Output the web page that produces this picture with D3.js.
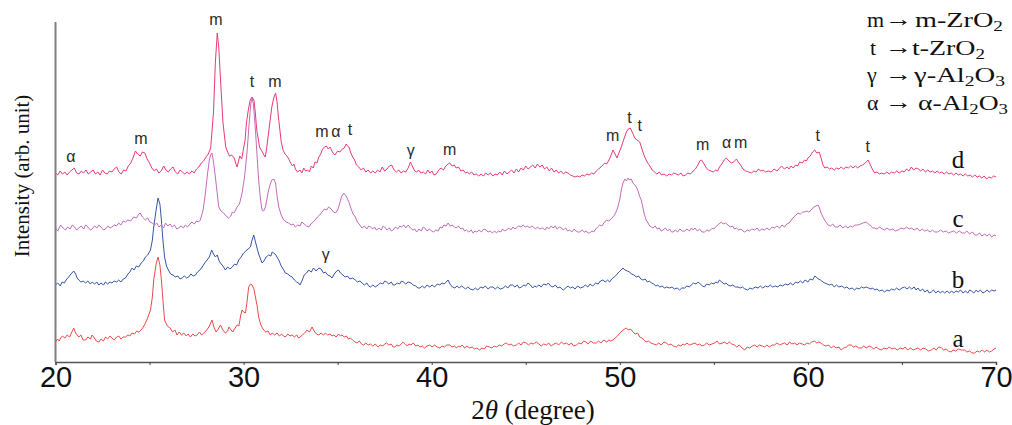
<!DOCTYPE html>
<html>
<head>
<meta charset="utf-8">
<script src="https://cdnjs.cloudflare.com/ajax/libs/d3/7.8.5/d3.min.js"></script>
<style>
  body { margin: 0; background: #fff; }
  .serif { font-family: "Liberation Serif", "Times New Roman", serif; }
  .sans { font-family: "Liberation Sans", Arial, sans-serif; }
</style>
</head>
<body>
<div id="xrd"></div>
<script>
// XRD patterns, [2theta, intensity] (intensity incl. vertical offset)
var curveA = [[20.0,20],[20.1,23],[20.2,21],[20.27,24],[20.37,26],[20.5,24],[20.62,27],[20.75,25],[20.87,30],[20.97,34],[21.07,29],[21.15,27],[21.24,25],[21.35,27],[21.47,22],[21.6,22],[21.72,25],[21.85,23],[21.95,27],[22.07,24],[22.17,21],[22.3,20],[22.42,23],[22.55,21],[22.66,25],[22.77,23],[22.9,26],[23.0,24],[23.12,22],[23.25,25],[23.36,26],[23.48,23],[23.6,25],[23.72,25],[23.85,27],[23.95,26],[24.07,29],[24.2,28],[24.32,31],[24.43,30],[24.55,32],[24.67,35],[24.78,39],[24.9,44],[25.05,52],[25.15,65],[25.22,82],[25.35,98],[25.45,105],[25.55,97],[25.63,82],[25.72,60],[25.8,42],[25.92,37],[26.0,35],[26.1,34],[26.22,30],[26.35,32],[26.46,27],[26.58,30],[26.7,27],[26.82,29],[26.95,26],[27.05,28],[27.17,25],[27.3,28],[27.42,26],[27.53,27],[27.65,30],[27.77,27],[27.88,29],[28.0,31],[28.08,33],[28.15,35],[28.25,39],[28.32,42],[28.42,35],[28.54,30],[28.65,33],[28.77,37],[28.9,32],[29.03,29],[29.15,31],[29.22,35],[29.3,33],[29.42,30],[29.55,34],[29.65,37],[29.75,36],[29.85,47],[29.92,52],[30.0,50],[30.1,49],[30.18,60],[30.27,75],[30.37,78],[30.45,77],[30.55,73],[30.63,65],[30.72,56],[30.8,45],[30.9,38],[31.0,34],[31.07,32],[31.18,30],[31.3,31],[31.42,27],[31.52,29],[31.65,27],[31.78,29],[31.9,26],[32.02,28],[32.12,26],[32.22,25],[32.35,28],[32.47,26],[32.58,27],[32.7,25],[32.82,27],[32.92,24],[33.0,25],[33.12,27],[33.25,29],[33.37,32],[33.5,30],[33.64,35],[33.75,31],[33.87,28],[34.0,27],[34.12,29],[34.25,27],[34.35,29],[34.47,27],[34.6,28],[34.7,26],[34.8,27],[34.92,25],[35.05,28],[35.15,26],[35.23,27],[35.35,25],[35.47,26],[35.57,23],[35.67,24],[35.8,22],[35.92,20],[36.03,19],[36.15,21],[36.27,18],[36.38,17],[36.5,19],[36.62,17],[36.74,18],[36.87,16],[37.0,18],
  [37.15,15],[37.27,17],[37.4,16],[37.5,18],[37.6,19],[37.72,17],[37.85,18],[37.95,15],[38.04,15],[38.15,17],[38.27,16],[38.38,18],[38.48,20],[38.6,18],[38.7,16],[38.8,18],[38.9,17],[39.02,19],[39.15,16],[39.27,17],[39.37,15],[39.5,16],[39.62,14],[39.75,16],[39.9,17],[40.02,15],[40.15,17],[40.3,15],[40.43,14],[40.55,16],[40.67,15],[40.8,17],[40.96,17],[41.08,15],[41.2,16],[41.32,14],[41.42,16],[41.5,15],[41.62,17],[41.75,14],[41.87,16],[42.02,14],[42.15,15],[42.27,13],[42.4,14],[42.55,12],[42.67,14],[42.8,13],[42.92,16],[43.08,15],[43.2,14],[43.32,16],[43.45,15],[43.6,17],[43.72,16],[43.85,18],[43.97,19],[44.1,17],[44.22,18],[44.35,16],[44.5,17],[44.62,19],[44.75,17],[44.87,20],[45.03,19],[45.15,17],[45.27,19],[45.4,18],[45.57,20],[45.7,18],[45.82,16],[45.95,18],[46.1,17],[46.22,19],[46.35,16],[46.5,18],[46.63,19],[46.75,17],[46.9,20],[47.02,18],[47.16,19],[47.3,17],[47.42,19],[47.55,16],[47.7,17],[47.82,19],[47.95,18],[48.08,21],[48.2,20],[48.32,18],[48.45,21],[48.6,19],[48.75,19],[48.87,21],[49.0,19],[49.15,22],[49.3,20],[49.42,22],[49.52,21],[49.64,22],[49.75,24],[49.88,26],[50.0,29],[50.12,31],[50.25,33],[50.35,34],[50.45,32],[50.58,33],[50.7,30],[50.82,28],[50.95,29],[51.06,25],[51.17,24],[51.3,22],[51.4,20],[51.52,21],[51.65,19],[51.8,18],[51.94,17],[52.07,19],[52.2,17],[52.35,20],[52.47,19],[52.6,17],[52.72,18],[52.85,16],[53.0,15],[53.12,17],[53.25,16],[53.35,18],[53.45,17],
  [53.57,19],[53.7,17],[53.85,18],[54.0,19],[54.12,17],[54.25,18],[54.37,16],[54.5,17],[54.62,19],[54.75,17],[54.9,18],[55.04,19],[55.17,21],[55.3,18],[55.45,19],[55.57,20],[55.7,18],[55.82,20],[55.95,18],[56.1,17],[56.22,15],[56.35,17],[56.5,14],[56.64,12],[56.77,15],[56.9,14],[57.05,16],[57.17,17],[57.3,15],[57.42,17],[57.57,16],[57.7,15],[57.82,17],[57.95,15],[58.1,17],[58.23,17],[58.35,19],[58.5,17],[58.62,18],[58.76,19],[58.9,17],[59.02,20],[59.15,18],[59.3,19],[59.42,17],[59.55,19],[59.7,18],[59.83,17],[59.95,19],[60.08,18],[60.2,20],[60.36,21],[60.47,19],[60.58,20],[60.7,19],[60.82,17],[60.95,16],[61.1,17],[61.24,14],[61.37,16],[61.5,14],[61.65,15],[61.77,12],[61.9,14],[62.05,15],[62.17,17],[62.3,17],[62.42,15],[62.55,16],[62.7,14],[62.84,14],[62.97,16],[63.1,14],[63.25,16],[63.37,15],[63.5,13],[63.62,15],[63.77,13],[63.9,12],[64.05,14],[64.2,13],[64.32,15],[64.47,13],[64.6,14],[64.75,12],[64.9,14],[65.05,13],[65.17,15],[65.3,12],[65.45,14],[65.6,12],[65.72,13],[65.85,14],[66.0,12],[66.12,14],[66.27,13],[66.4,11],[66.56,12],[66.7,14],[66.82,12],[66.95,15],[67.1,14],[67.22,12],[67.35,13],[67.47,11],[67.6,10],[67.72,12],[67.85,11],[68.0,13],[68.17,12],[68.33,12],[68.45,10],[68.6,11],[68.72,9],[68.86,9],[69.0,11],[69.12,10],[69.27,12],[69.4,10],[69.52,12],[69.65,10],[69.77,11],[69.9,13],[70.0,14]];

var curveB = [[20.0,77],[20.12,79],[20.25,76],[20.35,80],[20.47,79],[20.6,83],[20.7,85],[20.82,88],[20.97,91],[21.07,88],[21.15,84],[21.24,82],[21.35,80],[21.47,81],[21.6,79],[21.72,81],[21.85,78],[21.95,80],[22.07,78],[22.2,80],[22.3,77],[22.42,79],[22.55,77],[22.66,80],[22.77,78],[22.9,80],[23.0,79],[23.12,81],[23.25,80],[23.36,82],[23.48,80],[23.6,83],[23.72,84],[23.85,88],[23.95,90],[24.07,94],[24.18,92],[24.3,96],[24.43,95],[24.55,99],[24.67,101],[24.78,105],[24.9,107],[25.05,112],[25.15,122],[25.22,135],[25.35,152],[25.45,164],[25.55,158],[25.63,142],[25.72,120],[25.8,105],[25.9,96],[26.0,92],[26.12,88],[26.25,87],[26.37,85],[26.5,86],[26.62,83],[26.73,84],[26.85,86],[26.97,84],[27.08,85],[27.2,88],[27.32,86],[27.44,87],[27.55,90],[27.68,92],[27.8,95],[27.93,99],[28.06,102],[28.18,105],[28.3,112],[28.4,108],[28.5,105],[28.6,107],[28.7,101],[28.77,99],[28.9,96],[29.03,92],[29.15,95],[29.27,93],[29.4,95],[29.52,98],[29.63,97],[29.74,102],[29.87,105],[30.0,109],[30.12,111],[30.24,113],[30.36,115],[30.45,122],[30.54,127],[30.62,121],[30.7,115],[30.8,108],[30.9,103],[30.98,99],[31.08,101],[31.2,105],[31.33,107],[31.45,106],[31.52,110],[31.6,109],[31.72,107],[31.8,104],[31.87,102],[32.0,96],[32.1,93],[32.22,89],[32.35,88],[32.47,86],[32.58,85],[32.7,82],[32.82,80],[32.92,79],[33.0,77],[33.1,81],[33.22,87],[33.35,89],[33.46,92],[33.6,90],[33.72,94],[33.85,91],[34.0,94],[34.12,93],[34.25,89],[34.35,90],[34.47,87],[34.6,86],[34.7,84],[34.82,88],[34.95,91],[35.05,92],[35.15,89],[35.28,87],[35.4,85],[35.52,86],[35.65,83],[35.8,84],[35.94,82],[36.05,80],[36.18,81],[36.3,79],[36.42,77],[36.55,79],[36.65,76],[36.74,75],[36.87,77],[37.0,75],
  [37.15,77],[37.27,79],[37.4,78],[37.5,81],[37.6,80],[37.72,78],[37.85,80],[37.95,77],[38.04,77],[38.17,79],[38.3,78],[38.4,81],[38.5,80],[38.62,78],[38.75,80],[38.9,79],[39.02,77],[39.15,76],[39.27,74],[39.37,74],[39.5,76],[39.62,74],[39.75,77],[39.9,75],[40.02,77],[40.15,75],[40.3,78],[40.43,77],[40.55,79],[40.67,78],[40.77,80],[40.87,82],[40.97,78],[41.1,75],[41.23,74],[41.35,76],[41.47,74],[41.57,76],[41.67,75],[41.8,73],[41.92,75],[42.05,73],[42.2,72],[42.32,74],[42.45,72],[42.6,75],[42.73,74],[42.85,76],[43.0,73],[43.12,75],[43.26,75],[43.38,73],[43.5,75],[43.65,73],[43.8,74],[43.92,76],[44.05,74],[44.17,77],[44.3,77],[44.42,75],[44.55,77],[44.65,74],[44.77,75],[44.9,77],[45.0,76],[45.12,79],[45.25,77],[45.37,74],[45.47,76],[45.57,75],[45.7,77],[45.82,75],[45.95,78],[46.1,77],[46.2,79],[46.32,76],[46.45,75],[46.57,77],[46.7,74],[46.82,75],[46.92,73],[47.0,72],[47.12,74],[47.25,76],[47.37,74],[47.5,75],[47.62,73],[47.75,76],[47.9,74],[48.05,75],[48.17,77],[48.3,75],[48.42,78],[48.55,76],[48.6,77],[48.72,79],[48.85,78],[48.97,81],[49.1,82],[49.22,80],[49.35,82],[49.46,80],[49.57,83],[49.7,85],[49.82,87],[49.95,90],[50.07,92],[50.17,94],[50.27,92],[50.4,91],[50.52,90],[50.62,88],[50.75,87],[50.88,85],[51.0,86],[51.12,83],[51.23,82],[51.35,83],[51.47,80],[51.58,81],[51.68,79],[51.8,78],[51.92,76],[52.02,77],[52.12,75],[52.25,76],[52.38,74],[52.5,75],[52.65,74],[52.78,75],[52.9,73],[53.05,74],[53.18,72],[53.3,74],[53.45,74],
  [53.57,76],[53.7,75],[53.8,77],[53.92,79],[54.05,78],[54.16,80],[54.28,78],[54.4,76],[54.5,75],[54.62,78],[54.75,77],[54.87,79],[55.0,78],[55.1,80],[55.2,79],[55.3,82],[55.42,80],[55.55,78],[55.65,79],[55.75,77],[55.87,76],[56.0,77],[56.15,75],[56.28,75],[56.4,74],[56.52,75],[56.65,73],[56.8,72],[56.92,74],[57.05,73],[57.2,75],[57.35,74],[57.47,76],[57.6,74],[57.75,76],[57.88,75],[58.0,77],[58.12,75],[58.27,76],[58.4,75],[58.52,77],[58.65,76],[58.8,78],[58.94,77],[59.07,79],[59.2,77],[59.35,80],[59.47,79],[59.6,81],[59.72,79],[59.85,82],[60.0,80],[60.12,83],[60.25,82],[60.37,86],[60.45,85],[60.55,83],[60.67,82],[60.8,80],[60.9,79],[61.02,78],[61.15,77],[61.27,78],[61.4,75],[61.52,77],[61.65,75],[61.8,76],[61.95,74],[62.07,75],[62.2,73],[62.35,74],[62.48,72],[62.6,74],[62.72,73],[62.85,75],[62.97,74],[63.1,75],[63.22,74],[63.35,73],[63.45,74],[63.55,72],[63.67,73],[63.8,71],[63.95,72],[64.08,70],[64.2,72],[64.32,71],[64.45,73],[64.6,72],[64.72,74],[64.85,72],[65.0,74],[65.14,75],[65.27,73],[65.4,75],[65.52,73],[65.65,75],[65.75,72],[65.85,74],[65.97,71],[66.1,73],[66.22,70],[66.35,72],[66.45,69],[66.56,70],[66.67,72],[66.8,69],[66.92,71],[67.05,69],[67.15,71],[67.27,69],[67.4,71],[67.52,69],[67.65,71],[67.75,69],[67.87,71],[68.0,70],[68.12,72],[68.25,69],[68.37,71],[68.5,69],[68.6,72],[68.7,71],[68.82,69],[68.95,72],[69.05,70],[69.17,72],[69.3,69],[69.4,70],[69.52,72],[69.65,70],[69.77,72],[69.9,71],[70.0,72]];

var curveC = [[20.0,134],[20.12,131],[20.27,137],[20.4,134],[20.53,132],[20.65,135],[20.78,133],[20.9,137],[21.02,135],[21.12,132],[21.24,134],[21.37,136],[21.5,133],[21.6,137],[21.72,135],[21.85,132],[21.95,133],[22.07,136],[22.2,134],[22.3,137],[22.42,135],[22.55,132],[22.66,133],[22.78,136],[22.9,134],[23.0,135],[23.12,137],[23.25,136],[23.36,139],[23.48,137],[23.6,141],[23.72,140],[23.85,142],[24.0,141],[24.16,145],[24.3,144],[24.42,148],[24.5,149],[24.62,145],[24.78,142],[24.9,144],[25.02,140],[25.14,139],[25.27,137],[25.38,139],[25.5,135],[25.62,137],[25.75,134],[25.85,139],[25.97,136],[26.1,138],[26.2,135],[26.32,137],[26.45,133],[26.55,134],[26.67,136],[26.8,134],[26.9,137],[27.02,135],[27.15,138],[27.26,140],[27.38,138],[27.5,141],[27.6,140],[27.7,142],[27.85,152],[27.97,169],[28.08,188],[28.18,202],[28.25,207],[28.32,209],[28.4,200],[28.5,185],[28.6,168],[28.68,155],[28.8,151],[28.94,149],[29.07,146],[29.2,144],[29.32,146],[29.4,150],[29.48,149],[29.58,152],[29.65,155],[29.78,158],[29.92,169],[30.05,185],[30.18,209],[30.3,240],[30.38,258],[30.45,264],[30.52,258],[30.63,232],[30.72,205],[30.8,182],[30.9,162],[30.98,152],[31.07,151],[31.16,155],[31.25,164],[31.33,172],[31.42,178],[31.5,182],[31.6,183],[31.7,179],[31.78,166],[31.87,155],[32.0,147],[32.13,142],[32.27,140],[32.4,139],[32.52,137],[32.65,138],[32.75,135],[32.87,137],[33.0,136],[33.1,140],[33.22,138],[33.35,136],[33.46,135],[33.58,138],[33.7,140],[33.8,142],[33.92,145],[34.05,147],[34.17,150],[34.3,153],[34.42,152],[34.52,155],[34.65,153],[34.78,150],[34.88,149],[35.0,152],[35.1,158],[35.2,165],[35.32,169],[35.45,166],[35.6,160],[35.72,153],[35.82,148],[35.94,145],[36.05,140],[36.18,137],[36.3,134],[36.42,136],[36.55,133],[36.65,136],[36.74,135],[36.87,133],[36.96,135],
  [37.06,132],[37.2,134],[37.32,132],[37.42,136],[37.5,135],[37.62,132],[37.75,134],[37.85,131],[37.95,132],[38.08,135],[38.2,133],[38.3,136],[38.4,135],[38.52,137],[38.62,134],[38.75,137],[38.87,134],[39.0,132],[39.1,133],[39.2,130],[39.32,133],[39.45,131],[39.55,135],[39.63,134],[39.75,131],[39.87,133],[40.0,131],[40.1,130],[40.22,132],[40.35,131],[40.45,135],[40.55,134],[40.65,137],[40.77,136],[40.87,139],[40.98,136],[41.1,137],[41.2,135],[41.3,134],[41.42,136],[41.55,133],[41.65,134],[41.75,131],[41.85,132],[41.97,130],[42.1,132],[42.2,129],[42.3,131],[42.4,130],[42.52,132],[42.65,130],[42.77,133],[42.9,132],[43.0,130],[43.12,131],[43.22,129],[43.35,131],[43.44,129],[43.55,131],[43.67,130],[43.77,133],[43.87,131],[43.97,132],[44.1,134],[44.2,132],[44.32,135],[44.42,133],[44.5,134],[44.62,136],[44.75,135],[44.86,137],[44.97,135],[45.1,136],[45.2,134],[45.3,136],[45.4,135],[45.52,133],[45.62,135],[45.75,133],[45.9,134],[46.02,132],[46.12,135],[46.22,133],[46.35,136],[46.45,134],[46.57,136],[46.67,133],[46.78,135],[46.9,134],[47.0,132],[47.12,134],[47.22,131],[47.34,132],[47.45,130],[47.57,133],[47.67,131],[47.77,130],[47.87,130],[48.0,132],[48.12,130],[48.22,131],[48.32,129],[48.4,129],[48.52,131],[48.62,130],[48.72,133],[48.82,135],[48.93,137],[49.05,136],[49.15,139],[49.3,142],[49.42,141],[49.52,143],[49.64,145],[49.75,148],[49.82,151],[49.9,155],[50.0,163],[50.08,172],[50.17,179],[50.27,183],[50.35,181],[50.44,184],[50.52,182],[50.61,183],[50.7,179],[50.8,177],[50.88,175],[50.97,171],[51.05,166],[51.14,162],[51.22,155],[51.3,148],[51.4,142],[51.5,139],[51.6,136],[51.68,135],[51.76,134],[51.88,136],[52.0,133],[52.1,134],[52.2,131],[52.3,132],[52.42,134],[52.55,131],[52.65,133],[52.75,130],[52.83,130],[52.95,132],[53.07,130],[53.2,133],[53.32,131],[53.45,131],
  [53.57,133],[53.7,131],[53.8,134],[53.9,132],[54.0,134],[54.12,131],[54.25,133],[54.37,130],[54.5,130],[54.62,132],[54.75,131],[54.87,133],[55.04,134],[55.15,136],[55.27,138],[55.4,140],[55.5,138],[55.62,139],[55.75,137],[55.87,135],[56.0,136],[56.1,133],[56.2,134],[56.32,132],[56.45,133],[56.55,131],[56.64,130],[56.77,132],[56.9,131],[57.02,133],[57.17,132],[57.3,134],[57.42,131],[57.55,133],[57.7,132],[57.82,134],[57.95,132],[58.1,135],[58.23,134],[58.35,136],[58.5,134],[58.62,137],[58.76,135],[58.88,138],[59.0,139],[59.12,142],[59.25,145],[59.37,147],[59.47,149],[59.6,148],[59.72,150],[59.83,150],[59.95,151],[60.05,150],[60.18,152],[60.3,155],[60.42,156],[60.54,157],[60.62,154],[60.7,149],[60.8,145],[60.92,141],[61.07,137],[61.2,136],[61.32,138],[61.45,135],[61.6,135],[61.72,137],[61.85,134],[62.0,136],[62.13,134],[62.25,136],[62.38,135],[62.5,137],[62.66,137],[62.8,138],[62.92,139],[63.1,140],[63.22,138],[63.35,136],[63.45,134],[63.55,134],[63.67,133],[63.8,135],[63.95,133],[64.08,132],[64.2,134],[64.35,132],[64.5,133],[64.65,131],[64.8,132],[64.95,134],[65.1,133],[65.25,135],[65.38,133],[65.5,134],[65.65,132],[65.8,134],[65.95,131],[66.08,133],[66.2,131],[66.35,132],[66.5,130],[66.62,132],[66.75,130],[66.9,130],[67.05,132],[67.2,130],[67.35,131],[67.47,129],[67.6,130],[67.75,131],[67.9,129],[68.05,131],[68.2,129],[68.33,129],[68.45,131],[68.6,128],[68.75,130],[68.87,127],[69.0,127],[69.12,129],[69.25,126],[69.4,128],[69.52,126],[69.65,128],[69.77,125],[69.9,127],[70.0,126]];

var curveD = [[20.0,189],[20.12,187],[20.25,191],[20.37,188],[20.5,190],[20.62,187],[20.75,190],[20.87,192],[21.0,194],[21.12,189],[21.25,188],[21.37,191],[21.5,189],[21.62,192],[21.75,188],[21.87,190],[22.0,192],[22.12,188],[22.25,190],[22.37,187],[22.5,192],[22.62,189],[22.75,188],[22.87,191],[23.0,190],[23.12,193],[23.25,195],[23.37,190],[23.5,188],[23.62,192],[23.75,191],[23.87,196],[24.0,199],[24.12,204],[24.25,211],[24.37,208],[24.5,206],[24.62,210],[24.75,209],[24.87,203],[25.0,199],[25.12,194],[25.25,191],[25.37,193],[25.5,189],[25.62,191],[25.75,196],[25.87,192],[26.0,190],[26.12,193],[26.25,195],[26.37,190],[26.5,188],[26.62,192],[26.75,190],[26.87,188],[27.0,190],[27.12,188],[27.25,191],[27.37,189],[27.5,193],[27.62,195],[27.75,199],[27.87,201],[28.0,205],[28.12,208],[28.25,214],[28.4,250],[28.5,300],[28.6,329],[28.68,315],[28.75,290],[28.9,240],[29.05,215],[29.15,210],[29.25,206],[29.37,207],[29.5,204],[29.58,199],[29.65,195],[29.72,200],[29.8,206],[29.9,203],[30.0,214],[30.08,222],[30.15,239],[30.25,252],[30.35,262],[30.45,265],[30.55,262],[30.62,250],[30.7,232],[30.85,215],[30.93,212],[31.0,210],[31.08,207],[31.15,205],[31.22,213],[31.3,225],[31.4,240],[31.5,255],[31.6,264],[31.7,269],[31.78,260],[31.85,245],[31.93,232],[32.0,220],[32.1,212],[32.2,208],[32.3,206],[32.4,203],[32.5,199],[32.6,196],[32.68,198],[32.75,193],[32.87,190],[33.0,192],[33.1,189],[33.2,194],[33.3,191],[33.4,192],[33.5,190],[33.6,196],[33.7,194],[33.8,200],[33.9,199],[34.0,205],[34.1,208],[34.2,213],[34.3,215],[34.4,216],[34.5,213],[34.6,215],[34.72,210],[34.85,207],[34.93,209],[35.0,211],[35.12,210],[35.25,213],[35.35,214],[35.45,218],[35.52,216],[35.6,215],[35.7,209],[35.8,205],[35.9,202],[36.0,197],[36.12,195],[36.25,192],[36.37,194],[36.5,190],[36.62,192],[36.75,189],[36.87,191],
  [37.0,189],[37.12,192],[37.25,190],[37.37,195],[37.5,191],[37.62,193],[37.75,196],[37.87,197],[38.0,192],[38.12,190],[38.25,192],[38.37,189],[38.5,191],[38.62,190],[38.75,194],[38.87,200],[38.97,196],[39.1,191],[39.2,190],[39.3,192],[39.42,189],[39.55,190],[39.67,188],[39.8,192],[39.9,189],[40.02,191],[40.12,187],[40.25,188],[40.37,192],[40.5,194],[40.62,192],[40.75,196],[40.87,198],[40.96,199],[41.08,196],[41.2,197],[41.3,194],[41.42,195],[41.55,191],[41.67,192],[41.8,189],[41.9,190],[42.0,188],[42.12,190],[42.25,187],[42.37,188],[42.5,186],[42.62,188],[42.75,186],[42.87,189],[43.0,187],[43.12,189],[43.25,186],[43.37,188],[43.5,187],[43.62,190],[43.75,187],[43.87,191],[44.0,188],[44.12,190],[44.25,192],[44.37,189],[44.5,193],[44.62,190],[44.75,194],[44.87,192],[45.0,196],[45.12,193],[45.25,195],[45.37,197],[45.5,194],[45.62,198],[45.75,195],[45.87,197],[46.0,193],[46.12,195],[46.25,191],[46.37,194],[46.5,190],[46.62,192],[46.75,189],[46.87,191],[47.0,188],[47.12,190],[47.25,189],[47.37,187],[47.5,186],[47.62,185],[47.75,186],[47.87,185],[48.0,187],[48.12,186],[48.25,188],[48.37,187],[48.5,189],[48.62,188],[48.75,191],[48.87,193],[49.0,195],[49.1,197],[49.2,199],[49.3,198],[49.4,201],[49.52,206],[49.64,212],[49.75,208],[49.85,204],[49.95,209],[50.08,215],[50.2,222],[50.35,230],[50.45,233],[50.56,234],[50.68,229],[50.8,224],[50.9,222],[51.0,221],[51.06,220],[51.18,213],[51.3,206],[51.45,200],[51.6,196],[51.72,192],[51.85,190],[51.97,188],[52.1,190],[52.22,187],[52.35,188],[52.5,186],[52.62,188],[52.75,187],[52.87,189],[53.0,188],[53.12,187],[53.25,189],[53.37,186],[53.5,187],
  [53.62,189],[53.75,188],[53.9,191],[54.02,193],[54.15,197],[54.25,201],[54.34,202],[54.45,199],[54.6,194],[54.72,192],[54.85,191],[54.96,190],[55.1,192],[55.2,191],[55.3,195],[55.42,198],[55.55,202],[55.66,204],[55.8,201],[55.93,199],[56.05,200],[56.2,203],[56.3,200],[56.42,197],[56.55,193],[56.7,191],[56.85,190],[57.0,189],[57.12,191],[57.25,190],[57.37,193],[57.5,191],[57.62,192],[57.75,190],[57.9,191],[58.05,190],[58.2,193],[58.35,191],[58.5,194],[58.6,196],[58.75,193],[58.9,195],[59.0,193],[59.1,196],[59.22,194],[59.35,197],[59.46,196],[59.56,200],[59.7,199],[59.82,202],[59.92,201],[60.0,204],[60.12,206],[60.25,210],[60.36,212],[60.47,209],[60.6,210],[60.7,204],[60.8,197],[60.9,194],[61.02,195],[61.15,193],[61.27,194],[61.4,192],[61.52,194],[61.65,193],[61.77,195],[61.9,193],[62.02,195],[62.15,194],[62.27,196],[62.4,194],[62.52,196],[62.65,194],[62.77,196],[62.9,197],[63.05,199],[63.2,202],[63.32,197],[63.45,192],[63.55,189],[63.67,190],[63.8,188],[63.92,189],[64.05,188],[64.2,190],[64.32,188],[64.45,190],[64.6,189],[64.72,191],[64.85,189],[65.0,191],[65.12,190],[65.25,193],[65.37,191],[65.5,195],[65.62,192],[65.75,194],[65.87,193],[66.0,191],[66.12,193],[66.25,190],[66.37,192],[66.5,190],[66.62,191],[66.75,189],[66.87,191],[67.0,189],[67.12,190],[67.25,188],[67.37,190],[67.5,188],[67.62,189],[67.75,187],[67.87,189],[68.0,187],[68.12,188],[68.25,186],[68.37,188],[68.5,186],[68.62,187],[68.75,185],[68.87,187],[69.0,185],[69.12,186],[69.25,184],[69.37,186],[69.5,183],[69.62,185],[69.75,184],[69.87,186],[70.0,185]];

var curveNames = ["a", "b", "c", "d"];
var curveColors = ["#ec4a4a", "#3456a8", "#c46cba", "#e83a78"];
var curveLabelY = [15, 74, 135, 194];   // where the a-d letters sit (baseline)

// phase marks on top of the patterns: [symbol, 2theta, intensity]
var peakLabels = [["α",20.82,205],["m",24.54,223],["m",28.53,342],["t",30.44,280],["m",31.66,280],
  ["m",34.16,230],["α",34.9,230],["t",35.65,232],["γ",38.89,211],["m",40.96,212],
  ["m",49.62,226],["t",50.52,244],["t",51.06,236],["m",54.4,217],["α",55.68,219],["m",56.42,219],
  ["t",60.52,226],["t",63.18,215],["γ",34.37,107]];

var legendSym = ["m", "t", "γ", "α"];
var legendPhase = [["m-ZrO", "2"], ["t-ZrO", "2"], ["γ-Al", "2", "O", "3"], ["α-Al", "2", "O", "3"]];
var legendStart = [915, 912, 914, 918];
var legendWidth = [88, 73, 91, 90];
var xTicks = [20, 30, 40, 50, 60, 70];

var width = 1012, height = 425;

var svg = d3.select("#xrd").append("svg")
    .attr("width", width)
    .attr("height", height);

var xScale = d3.scaleLinear().domain([20, 70]).range([55.5, 996]);
var yScale = d3.scaleLinear().domain([0, 340]).range([362, 22]);

// curves
var line = d3.line()
    .x(function(d) { return xScale(d[0]); })
    .y(function(d) { return yScale(d[1]); });

[curveA, curveB, curveC, curveD].forEach(function(data, i) {
    svg.append("path")
        .attr("d", line(data))
        .attr("fill", "none")
        .attr("stroke", curveColors[i])
        .attr("stroke-width", 1)
        .attr("stroke-linejoin", "round");
});

// x axis
var xAxis = d3.axisBottom(xScale)
    .tickValues(d3.range(20, 71, 5))
    .tickSize(3)
    .tickFormat(function(d) { return xTicks.indexOf(d) >= 0 ? d : ""; });
var gx = svg.append("g")
    .attr("transform", "translate(0," + yScale(0) + ")")
    .call(xAxis);
gx.select(".domain").attr("stroke", "#555").attr("stroke-width", 1.5);
gx.selectAll(".tick line").attr("stroke", "#444");
gx.selectAll(".tick text")
    .attr("class", "sans")
    .attr("font-size", 29)
    .attr("fill", "#111")
    .attr("dy", "0.82em")
    .attr("y", 1);

// y axis: plain line only
svg.append("line")
    .attr("x1", xScale(20)).attr("x2", xScale(20))
    .attr("y1", yScale(340)).attr("y2", yScale(0))
    .attr("stroke", "#808080")
    .attr("stroke-width", 2);

// axis titles
var xt = svg.append("text")
    .attr("class", "serif")
    .attr("x", 533)
    .attr("y", 419)
    .attr("text-anchor", "middle")
    .attr("font-size", 27)
    .attr("fill", "#111");
xt.append("tspan").text("2");
xt.append("tspan").attr("font-style", "italic").text("θ");
xt.append("tspan").text(" (degree)");

svg.append("text")
    .attr("class", "serif")
    .attr("transform", "translate(29,176) rotate(-90)")
    .attr("text-anchor", "middle")
    .attr("font-size", 21)
    .attr("fill", "#111")
    .text("Intensity (arb. unit)");

// phase marks
svg.selectAll(".peak")
    .data(peakLabels)
    .enter().append("text")
    .attr("class", "sans")
    .attr("x", function(d) { return xScale(d[1]); })
    .attr("y", function(d) { return yScale(d[2]) + 5; })
    .attr("text-anchor", "middle")
    .attr("font-size", 16)
    .attr("fill", "#2a2a2a")
    .text(function(d) { return d[0]; });

// sample letters
svg.selectAll(".cname")
    .data(curveNames)
    .enter().append("text")
    .attr("class", "serif")
    .attr("x", 958)
    .attr("y", function(d, i) { return yScale(curveLabelY[i]); })
    .attr("text-anchor", "middle")
    .attr("font-size", 25)
    .attr("fill", "#111")
    .text(function(d) { return d; });

// legend
var leg = svg.append("g").attr("class", "serif").attr("font-size", 22).attr("fill", "#111");
legendSym.forEach(function(s, i) {
    var y = 27 + i * 27.7;
    leg.append("text").attr("x", i === 1 ? 870 : 867).attr("y", y).text(s);
    // long arrow: stretch the glyph sideways
    leg.append("text")
        .attr("transform", "translate(885," + (y - 1) + ") scale(1.3,1)")
        .attr("font-size", 21)
        .text("→");
    var t = leg.append("text")
        .attr("x", legendStart[i]).attr("y", y)
        .attr("textLength", legendWidth[i])
        .attr("lengthAdjust", "spacingAndGlyphs");
    legendPhase[i].forEach(function(p, j) {
        if (j % 2 === 1) {
            t.append("tspan").attr("font-size", 15).attr("dy", 4).text(p);
        } else {
            t.append("tspan").attr("dy", j > 0 ? -4 : 0).text(p);
        }
    });
});
</script>
</body>
</html>
